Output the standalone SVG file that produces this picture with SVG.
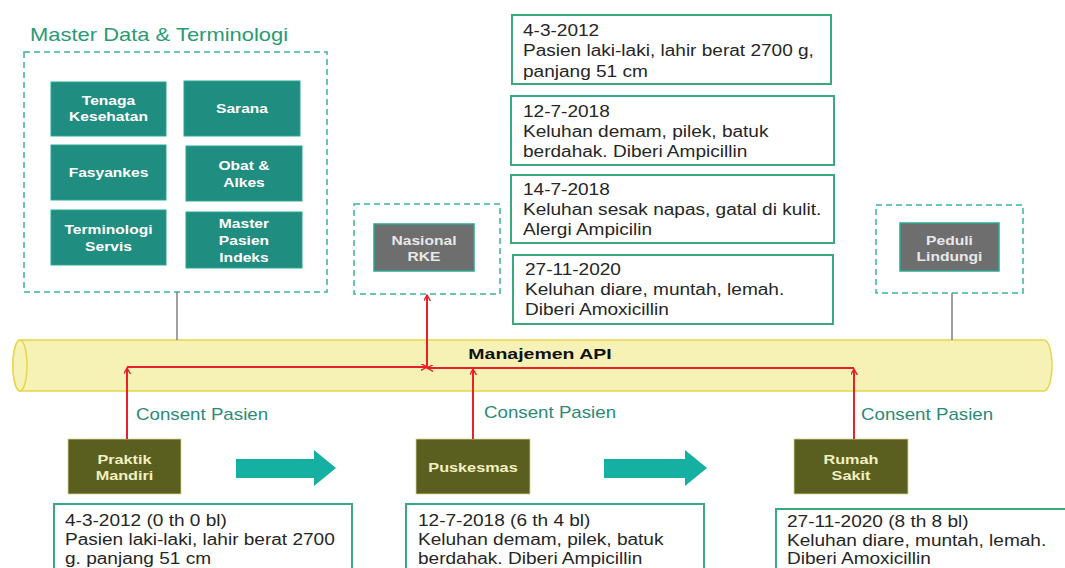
<svg xmlns="http://www.w3.org/2000/svg" width="1065" height="568" viewBox="0 0 1065 568">
<style>
.title{font-family:"Liberation Sans",Arial,sans-serif;font-size:18px;fill:#2a9a72}
.dash{fill:none;stroke:#3ab29c;stroke-width:1.5;stroke-dasharray:6 4}
.tbox{fill:#1f8d7f;stroke:#2aa893;stroke-width:1}
.tt{font-family:"Liberation Sans",Arial,sans-serif;font-size:13px;font-weight:bold;fill:#ffffff;text-anchor:middle}
.gbox{fill:#6e6e6e;stroke:#2aa893;stroke-width:1.5}
.gt{font-family:"Liberation Sans",Arial,sans-serif;font-size:13px;font-weight:bold;fill:#e8e8e8;text-anchor:middle}
.obox{fill:#5a5f20;stroke:#d8d890;stroke-width:0.8}
.ot{font-family:"Liberation Sans",Arial,sans-serif;font-size:13px;font-weight:bold;fill:#f2f0c0;text-anchor:middle}
.rec{fill:#ffffff;stroke:#3aa97e;stroke-width:2}
.rt{font-family:"Liberation Sans",Arial,sans-serif;font-size:16px;fill:#262626}
.cons{font-family:"Liberation Sans",Arial,sans-serif;font-size:16px;fill:#2a8a7a}
.red{fill:none;stroke:#e8202c;stroke-width:2}
.gline{stroke:#808080;stroke-width:1.5}
.blk{fill:#16b0a2}
</style>
<defs>
<marker id="ah" viewBox="0 0 10 10" refX="9" refY="5" markerWidth="7" markerHeight="7" orient="auto" markerUnits="userSpaceOnUse">
<path d="M0,0 L9,5 L0,10" fill="none" stroke="#e8202c" stroke-width="2"/>
</marker>
</defs>

<!-- API cylinder -->
<g id="api">
<path d="M20,340 L1044,340 A8,25.5 0 0 1 1044,391 L20,391 A7,25.5 0 0 1 20,340 Z" fill="#f6f2b6" stroke="#e6d64a" stroke-width="1.5"/>
<ellipse cx="20" cy="365.5" rx="7" ry="25.5" fill="#f6f2b6" stroke="#e6d64a" stroke-width="1.5"/>
<text x="540" y="359" font-family="'Liberation Sans',Arial,sans-serif" font-size="15" font-weight="bold" fill="#111" text-anchor="middle" transform="matrix(1.3 0 0 1 -162 0)">Manajemen API</text>
</g>

<!-- Master Data -->
<g id="master-data">
<text class="title" x="30" y="41" transform="matrix(1.22 0 0 1 -6.6 0)">Master Data &amp; Terminologi</text>
<rect class="dash" x="24" y="52" width="303" height="240"/>
<g id="tenaga"><rect class="tbox" x="51" y="82" width="115" height="54"/><text class="tt" x="108.5" y="105" transform="matrix(1.2 0 0 1 -21.7 0)">Tenaga</text><text class="tt" x="108.5" y="121" transform="matrix(1.2 0 0 1 -21.7 0)">Kesehatan</text></g>
<g id="sarana"><rect class="tbox" x="184" y="81" width="116" height="55"/><text class="tt" x="242" y="113" transform="matrix(1.2 0 0 1 -48.4 0)">Sarana</text></g>
<g id="fasyankes"><rect class="tbox" x="51" y="145" width="115" height="55"/><text class="tt" x="108.5" y="177" transform="matrix(1.2 0 0 1 -21.7 0)">Fasyankes</text></g>
<g id="obat"><rect class="tbox" x="186" y="146" width="116" height="55"/><text class="tt" x="244" y="170" transform="matrix(1.2 0 0 1 -48.8 0)">Obat &amp;</text><text class="tt" x="244" y="187" transform="matrix(1.2 0 0 1 -48.8 0)">Alkes</text></g>
<g id="terminologi"><rect class="tbox" x="51" y="210" width="115" height="55"/><text class="tt" x="108.5" y="234" transform="matrix(1.2 0 0 1 -21.7 0)">Terminologi</text><text class="tt" x="108.5" y="251" transform="matrix(1.2 0 0 1 -21.7 0)">Servis</text></g>
<g id="mpi"><rect class="tbox" x="186" y="212" width="116" height="56"/><text class="tt" x="244" y="228" transform="matrix(1.2 0 0 1 -48.8 0)">Master</text><text class="tt" x="244" y="245" transform="matrix(1.2 0 0 1 -48.8 0)">Pasien</text><text class="tt" x="244" y="262" transform="matrix(1.2 0 0 1 -48.8 0)">Indeks</text></g>
</g>

<!-- Nasional RKE -->
<g id="nasional-rke">
<rect class="dash" x="354" y="204" width="146" height="90"/>
<rect class="gbox" x="374" y="224" width="100" height="47"/>
<text class="gt" x="424" y="245" transform="matrix(1.2 0 0 1 -84.8 0)">Nasional</text>
<text class="gt" x="424" y="261" transform="matrix(1.2 0 0 1 -84.8 0)">RKE</text>
</g>

<!-- Peduli Lindungi -->
<g id="peduli-lindungi">
<rect class="dash" x="876" y="205" width="147" height="88"/>
<rect class="gbox" x="900" y="223" width="99" height="48"/>
<text class="gt" x="949.5" y="245" transform="matrix(1.2 0 0 1 -189.9 0)">Peduli</text>
<text class="gt" x="949.5" y="261" transform="matrix(1.2 0 0 1 -189.9 0)">Lindungi</text>
</g>

<!-- Top records -->
<g id="rec-top-1"><rect class="rec" x="512" y="15" width="319" height="69"/>
<text class="rt" x="523" y="36" transform="matrix(1.19 0 0 1 -99.37 0)">4-3-2012</text><text class="rt" x="523" y="56" transform="matrix(1.19 0 0 1 -99.37 0)">Pasien laki-laki, lahir berat 2700 g,</text><text class="rt" x="523" y="77" transform="matrix(1.19 0 0 1 -99.37 0)">panjang 51 cm</text></g>
<g id="rec-top-2"><rect class="rec" x="511" y="96" width="323" height="69"/>
<text class="rt" x="523" y="117" transform="matrix(1.19 0 0 1 -99.37 0)">12-7-2018</text><text class="rt" x="523" y="137" transform="matrix(1.19 0 0 1 -99.37 0)">Keluhan demam, pilek, batuk</text><text class="rt" x="523" y="157" transform="matrix(1.19 0 0 1 -99.37 0)">berdahak. Diberi Ampicillin</text></g>
<g id="rec-top-3"><rect class="rec" x="511" y="175" width="323" height="68"/>
<text class="rt" x="523" y="195" transform="matrix(1.19 0 0 1 -99.37 0)">14-7-2018</text><text class="rt" x="523" y="215" transform="matrix(1.19 0 0 1 -99.37 0)">Keluhan sesak napas, gatal di kulit.</text><text class="rt" x="523" y="235" transform="matrix(1.19 0 0 1 -99.37 0)">Alergi Ampicilin</text></g>
<g id="rec-top-4"><rect class="rec" x="513" y="255" width="320" height="69"/>
<text class="rt" x="525" y="275" transform="matrix(1.19 0 0 1 -99.75 0)">27-11-2020</text><text class="rt" x="525" y="295" transform="matrix(1.19 0 0 1 -99.75 0)">Keluhan diare, muntah, lemah.</text><text class="rt" x="525" y="315" transform="matrix(1.19 0 0 1 -99.75 0)">Diberi Amoxicillin</text></g>

<!-- Facilities -->
<g id="praktik-mandiri"><rect class="obox" x="68" y="439" width="113" height="55"/><text class="ot" x="124.5" y="464" transform="matrix(1.25 0 0 1 -31.125 0)">Praktik</text><text class="ot" x="124.5" y="480" transform="matrix(1.25 0 0 1 -31.125 0)">Mandiri</text></g>
<g id="puskesmas"><rect class="obox" x="416" y="439" width="114" height="55"/><text class="ot" x="473" y="472" transform="matrix(1.25 0 0 1 -118.25 0)">Puskesmas</text></g>
<g id="rumah-sakit"><rect class="obox" x="794" y="439" width="114" height="55"/><text class="ot" x="851" y="464" transform="matrix(1.25 0 0 1 -212.75 0)">Rumah</text><text class="ot" x="851" y="480" transform="matrix(1.25 0 0 1 -212.75 0)">Sakit</text></g>

<!-- Bottom records -->
<g id="rec-bot-1"><rect class="rec" x="54" y="504" width="298" height="70"/>
<text class="rt" x="65" y="526" transform="matrix(1.19 0 0 1 -12.35 0)">4-3-2012 (0 th 0 bl)</text><text class="rt" x="65" y="545" transform="matrix(1.19 0 0 1 -12.35 0)">Pasien laki-laki, lahir berat 2700</text><text class="rt" x="65" y="564" transform="matrix(1.19 0 0 1 -12.35 0)">g. panjang 51 cm</text></g>
<g id="rec-bot-2"><rect class="rec" x="406" y="504" width="298" height="70"/>
<text class="rt" x="418" y="526" transform="matrix(1.19 0 0 1 -79.42 0)">12-7-2018 (6 th 4 bl)</text><text class="rt" x="418" y="545" transform="matrix(1.19 0 0 1 -79.42 0)">Keluhan demam, pilek, batuk</text><text class="rt" x="418" y="564" transform="matrix(1.19 0 0 1 -79.42 0)">berdahak. Diberi Ampicillin</text></g>
<g id="rec-bot-3"><rect class="rec" x="776" y="509" width="300" height="70"/>
<text class="rt" x="787" y="527" transform="matrix(1.19 0 0 1 -149.53 0)">27-11-2020 (8 th 8 bl)</text><text class="rt" x="787" y="546" transform="matrix(1.19 0 0 1 -149.53 0)">Keluhan diare, muntah, lemah.</text><text class="rt" x="787" y="564" transform="matrix(1.19 0 0 1 -149.53 0)">Diberi Amoxicillin</text></g>

<!-- Connectors -->
<g id="connectors">
<line class="gline" x1="177" y1="292" x2="177" y2="340"/>
<line class="gline" x1="952" y1="293" x2="952" y2="340"/>
<path class="blk" d="M236,459 L314,459 L314,450 L336,468 L314,486 L314,478 L236,478 Z"/>
<path class="blk" d="M604,459 L685,459 L685,450 L707,468 L685,486 L685,478 L604,478 Z"/>
<line class="red" x1="127" y1="439" x2="127" y2="368" marker-end="url(#ah)"/>
<line class="red" x1="127" y1="367" x2="427" y2="367" marker-end="url(#ah)"/>
<line class="red" x1="473" y1="439" x2="473" y2="369" marker-end="url(#ah)"/>
<line class="red" x1="854" y1="439" x2="854" y2="369" marker-end="url(#ah)"/>
<line class="red" x1="854" y1="368" x2="427" y2="368" marker-end="url(#ah)"/>
<line class="red" x1="427" y1="368" x2="427" y2="295" marker-end="url(#ah)"/>
<text class="cons" x="136" y="420" transform="matrix(1.17 0 0 1 -23.12 0)">Consent Pasien</text>
<text class="cons" x="484" y="418" transform="matrix(1.17 0 0 1 -82.28 0)">Consent Pasien</text>
<text class="cons" x="861" y="420" transform="matrix(1.17 0 0 1 -146.37 0)">Consent Pasien</text>
</g>
</svg>
